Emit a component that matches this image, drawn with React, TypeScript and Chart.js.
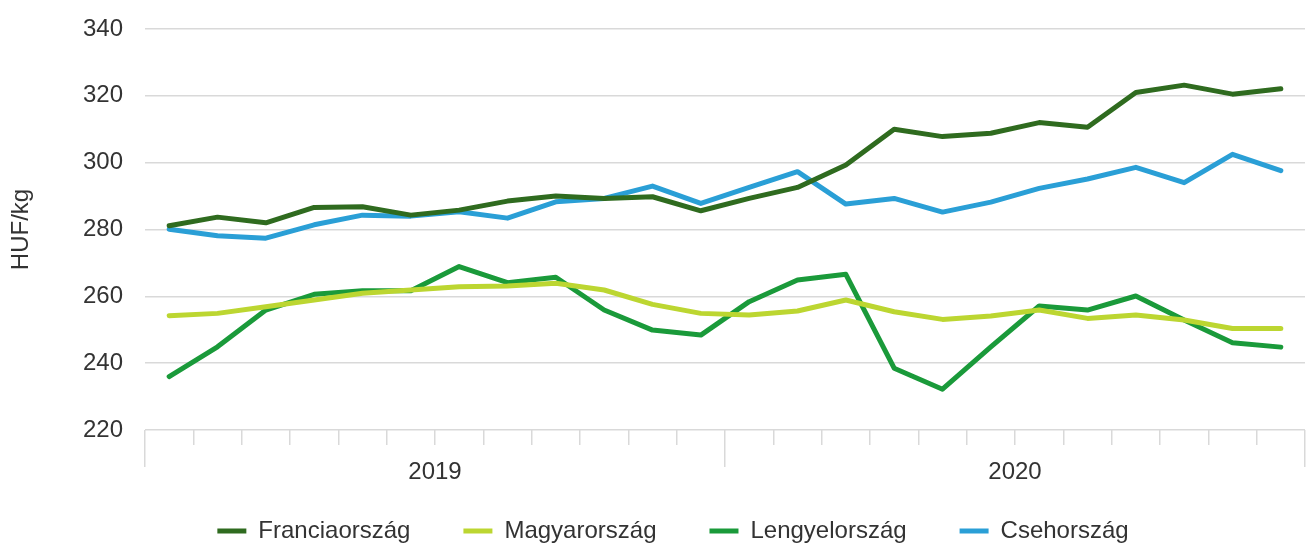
import React, { useEffect, useRef } from 'react';
import { Chart, registerables } from 'chart.js';

Chart.register(...registerables);

const months = [
  '2019-01', '2019-02', '2019-03', '2019-04', '2019-05', '2019-06',
  '2019-07', '2019-08', '2019-09', '2019-10', '2019-11', '2019-12',
  '2020-01', '2020-02', '2020-03', '2020-04', '2020-05', '2020-06',
  '2020-07', '2020-08', '2020-09', '2020-10', '2020-11', '2020-12',
];
const years = ['2019', '2020'];
const yMin = 220;
const yMax = 340;
const yStep = 20;

const franciaorszag = [
  281.1, 283.7, 282.0, 286.6, 286.8, 284.3, 285.8, 288.5, 290.0, 289.3, 289.8, 285.6,
  289.3, 292.6, 299.3, 310.0, 307.8, 308.8, 312.0, 310.6, 321.0, 323.2, 320.5, 322.1,
];
const magyarorszag = [
  254.2, 254.9, 256.9, 258.9, 260.9, 261.9, 262.9, 263.1, 263.9, 261.9, 257.6, 254.9,
  254.4, 255.6, 258.9, 255.4, 253.1, 254.1, 255.9, 253.4, 254.4, 252.9, 250.4, 250.4,
];
const lengyelorszag = [
  236.0, 244.9, 255.9, 260.6, 261.7, 261.7, 268.9, 264.1, 265.7, 255.9, 249.9, 248.4,
  258.4, 264.9, 266.6, 238.5, 232.2, 244.9, 257.1, 255.9, 260.1, 252.9, 246.1, 244.8,
];
const csehorszag = [
  280.1, 278.1, 277.4, 281.4, 284.3, 284.0, 285.3, 283.4, 288.3, 289.3, 293.0, 287.8,
  292.6, 297.3, 287.6, 289.3, 285.2, 288.2, 292.3, 295.1, 298.6, 294.0, 302.5, 297.6,
];

const seriesNames = ['Franciaország', 'Magyarország', 'Lengyelország', 'Csehország'];
const seriesColors = ['#2f6b1f', '#bcd631', '#1a9a3a', '#2a9fd6'];
const seriesValues = [franciaorszag, magyarorszag, lengyelorszag, csehorszag];

const TEXT = '#333333';
const GRID = '#d9d9d9';

const layoutPatch = {
  id: 'layoutPatch',
  beforeLayout(chart: any) {
    const lg = chart.legend;
    if (lg && !lg.__patched) {
      const orig = lg.fit.bind(lg);
      lg.fit = function () {
        orig();
        this.height = 79;
      };
      lg.__patched = true;
    }
  },
  afterLayout(chart: any) {
    const lg = chart.legend;
    if (lg) lg.left += 41;
  },
};

export default function App() {
  const ref = useRef<HTMLCanvasElement>(null);

  useEffect(() => {
    const canvas = ref.current;
    if (!canvas) return;
    Chart.defaults.font.family = '"Liberation Sans", Arial, sans-serif';
    Chart.defaults.color = TEXT;

    const chart = new Chart(canvas, {
      type: 'line',
      data: {
        labels: months,
        datasets: seriesNames.map((name, i) => ({
          label: name,
          data: seriesValues[i],
          borderColor: seriesColors[i],
          backgroundColor: seriesColors[i],
          borderWidth: 5,
          pointRadius: 0,
          tension: 0,
          borderJoinStyle: 'round' as const,
          borderCapStyle: 'round' as const,
          xAxisID: 'x',
        })),
      },
      options: {
        responsive: false,
        animation: false,
        layout: { padding: { top: 29, right: 4, left: 0, bottom: 0 } },
        scales: {
          x: {
            type: 'category',
            position: 'bottom',
            weight: 0,
            offset: true,
            grid: {
              offset: true,
              drawOnChartArea: false,
              tickLength: 15,
              color: GRID,
              lineWidth: 1.5,
            },
            border: { display: false },
            ticks: { display: false },
            afterFit: (s: any) => {
              s.height = 15;
            },
          },
          x2: {
            type: 'category',
            labels: years,
            position: 'bottom',
            weight: 1,
            offset: true,
            grid: {
              offset: true,
              drawOnChartArea: false,
              tickLength: 22,
              color: GRID,
              lineWidth: 1.5,
            },
            border: { display: false },
            ticks: {
              padding: -9,
              font: { size: 24 },
              color: TEXT,
              maxRotation: 0,
              autoSkip: false,
            },
            afterFit: (s: any) => {
              s.height = 21;
              s._computeLabelArea = () => undefined;
            },
          },
          y: {
            min: yMin,
            max: yMax,
            ticks: { stepSize: yStep, padding: 0, font: { size: 24 }, color: TEXT },
            grid: {
              drawTicks: true,
              tickLength: 22,
              tickColor: 'rgba(0,0,0,0)',
              color: GRID,
              lineWidth: 1.5,
            },
            border: { display: false },
            title: {
              display: true,
              text: 'HUF/kg',
              font: { size: 24 },
              color: TEXT,
              padding: { top: 7, bottom: 0 },
            },
            afterFit: (s: any) => {
              s.width = 145;
            },
          },
        },
        plugins: {
          legend: {
            position: 'bottom',
            labels: {
              boxWidth: 29,
              boxHeight: 5,
              padding: 53,
              font: { size: 24 },
              color: TEXT,
              generateLabels: (c: any) =>
                Chart.defaults.plugins.legend.labels
                  .generateLabels(c)
                  .map((l: any) => ({ ...l, lineWidth: 0 })),
            },
          },
          tooltip: { enabled: false },
        },
      } as any,
      plugins: [layoutPatch],
    });
    return () => chart.destroy();
  }, []);

  return (
    <div
      style={{
        position: 'fixed',
        left: 0,
        top: 0,
        width: 1309,
        height: 545,
        overflow: 'hidden',
        background: '#ffffff',
      }}
    >
      <canvas ref={ref} width={1309} height={545} style={{ display: 'block' }} />
    </div>
  );
}
